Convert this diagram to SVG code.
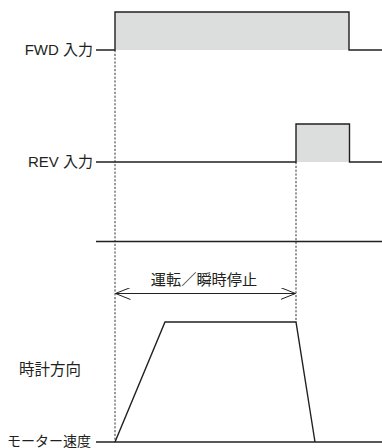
<svg xmlns="http://www.w3.org/2000/svg" width="382" height="448" viewBox="0 0 382 448">
<style>
.sig{fill:none;stroke:#231f20;stroke-width:1.4}
.fill{fill:#dcdddd;stroke:none}
.dot{fill:none;stroke:#231f20;stroke-width:0.9;stroke-dasharray:2.2,1.6}
.lbl{font-family:"Liberation Sans","Noto Sans CJK JP",sans-serif;font-size:15px;fill:#231f20}
</style>
<defs>
<marker id="open" viewBox="0 0 16 12" refX="15" refY="6" markerWidth="16" markerHeight="12" markerUnits="userSpaceOnUse" orient="auto-start-reverse">
<path d="M0,0 L15,6 L0,12" fill="none" stroke="#231f20" stroke-width="1"/>
</marker>
</defs>
<g id="fwd">
<rect class="fill" x="115" y="12" width="234" height="38"/>
<path class="sig" d="M96,50 H115 V12 H349 V50 H382"/>
<text class="lbl" x="93" y="55" text-anchor="end">FWD 入力</text>
</g>
<g id="rev">
<rect class="fill" x="296" y="124" width="53.5" height="38"/>
<path class="sig" d="M96,162 H296 V124 H349.5 V162 H382"/>
<text class="lbl" x="93" y="167" text-anchor="end">REV 入力</text>
</g>
<g id="separator">
<path class="sig" d="M96,241.5 H382"/>
</g>
<g id="motor">
<path class="sig" d="M96,442 H382"/>
<path class="sig" d="M115,442 L165,322 H296 L315,442"/>
<text class="lbl" x="19" y="375" style="font-size:15.5px">時計方向</text>
<text class="lbl" x="91" y="446" text-anchor="end" style="font-size:14px">モーター速度</text>
</g>
<g id="connectors">
<path class="dot" d="M115,50 V442"/>
<path class="dot" d="M296,162 V322"/>
<path class="sig" d="M115.5,293.5 H295.5" marker-start="url(#open)" marker-end="url(#open)" style="stroke-width:1"/>
<text class="lbl" x="204" y="285" text-anchor="middle" style="font-size:15.2px">運転／瞬時停止</text>
</g>
</svg>
